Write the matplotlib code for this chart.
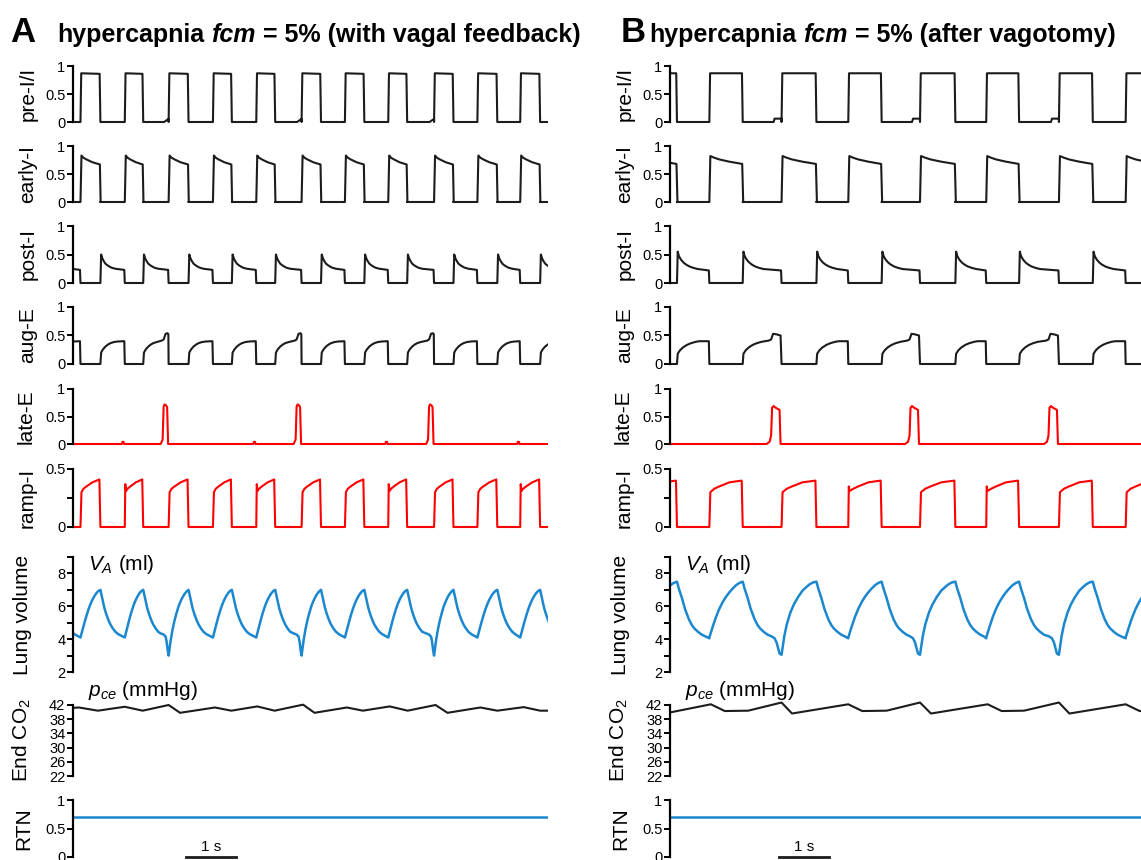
import matplotlib
matplotlib.use('Agg')
import matplotlib.pyplot as plt

plt.rcParams['font.family'] = ['Liberation Sans', 'DejaVu Sans']
plt.rcParams['mathtext.fontset'] = 'custom'
plt.rcParams['mathtext.rm'] = 'Liberation Sans'
plt.rcParams['mathtext.it'] = 'Liberation Sans:italic'

# ---- phase timing (s) ----
# inspiration onsets / offsets; kinds = what happens in the expiration before each onset
on_A = [-0.75, 0.15, 1.04, 1.92, 2.81, 3.68, 4.59, 5.46, 6.33, 7.25, 8.12, 8.98, 9.86]
off_A = [-0.33, 0.55, 1.41, 2.32, 3.19, 4.06, 4.98, 5.85, 6.71, 7.64, 8.52, 9.38, 10.25]
kinds_A = ['none', 'none', 'bump', 'spike', 'none', 'bump', 'spike', 'none', 'bump',
           'spike', 'none', 'bump', 'spike']

on_B = [-0.53, 0.79, 2.24, 3.58, 5.02, 6.35, 7.81, 9.15]
off_B = [0.14, 1.46, 2.94, 4.25, 5.73, 7.01, 8.49, 9.82]
kinds_B = ['none', 'none', 'spike', 'notch', 'spike', 'notch', 'spike', 'none']

# ---- trace shapes: (fraction of phase, seconds offset, value) ----
zero = [(0, 0, 0), (1, 0, 0)]

preI_A = {'insp': {'default': [(0, 0, 0), (0, 0.015, 0.87), (1, -0.015, 0.86), (1, 0, 0)]},
          'exp': {'default': zero,
                  'spike': [(0, 0, 0), (1, -0.09, 0), (1, -0.01, 0.05), (1, 0, 0.05)]}}
preI_B = {'insp': {'default': [(0, 0, 0), (0, 0.015, 0.87), (1, -0.015, 0.87), (1, 0, 0)]},
          'exp': {'default': zero,
                  'spike': [(0, 0, 0), (1, -0.16, 0), (1, -0.14, 0.06), (1, -0.01, 0.06), (1, 0, 0.06)]}}

earlyI_A = {'insp': {'default': [(0, 0, 0), (0, 0.02, 0.83), (0.15, 0, 0.79), (0.3, 0, 0.76),
                                 (0.6, 0, 0.71), (1, -0.01, 0.67), (1, 0.005, 0)]},
            'exp': {'default': zero}}
earlyI_B = {'insp': {'default': [(0, 0, 0), (0, 0.02, 0.82), (0.15, 0, 0.79), (0.3, 0, 0.76),
                                 (0.6, 0, 0.72), (1, -0.01, 0.68), (1, 0.01, 0)]},
            'exp': {'default': zero}}

postI_A = {'insp': {'default': zero},
           'exp': {'default': [(0, 0, 0), (0, 0.015, 0.5), (0, 0.04, 0.43), (0, 0.07, 0.38),
                               (0, 0.1, 0.34), (0, 0.15, 0.305), (0, 0.22, 0.27),
                               (0, 0.3, 0.25), (1, -0.01, 0.23), (1, 0, 0)]}}
postI_B = {'insp': {'default': zero},
           'exp': {'default': [(0, 0, 0), (0, 0.015, 0.55), (0, 0.04, 0.47), (0, 0.08, 0.41),
                               (0, 0.13, 0.36), (0, 0.18, 0.325), (0, 0.25, 0.29),
                               (0, 0.33, 0.265), (0, 0.42, 0.245), (1, -0.01, 0.22), (1, 0, 0)]}}

augE_A_rise = [(0, 0, 0), (0, 0.015, 0.2), (0, 0.05, 0.255), (0, 0.1, 0.305), (0, 0.15, 0.34),
               (0, 0.2, 0.365), (0, 0.27, 0.385), (0, 0.35, 0.395)]
augE_A = {'insp': {'default': zero},
          'exp': {'default': augE_A_rise + [(1, -0.01, 0.4), (1, 0, 0)],
                  'spike': augE_A_rise[:-1] + [(1, -0.14, 0.41), (1, -0.1, 0.43), (1, -0.06, 0.53),
                                               (1, -0.02, 0.54), (1, -0.005, 0.52), (1, 0, 0)]}}
augE_B_rise = [(0, 0, 0), (0, 0.015, 0.18), (0, 0.06, 0.24), (0, 0.12, 0.29), (0, 0.2, 0.335),
               (0, 0.28, 0.365), (0, 0.38, 0.39), (0, 0.45, 0.4)]
augE_B = {'insp': {'default': zero},
          'exp': {'default': augE_B_rise + [(1, -0.01, 0.4), (1, 0, 0)],
                  'spike': augE_B_rise[:-1] + [(1, -0.26, 0.41), (1, -0.21, 0.43), (1, -0.17, 0.53),
                                               (1, -0.1, 0.52), (1, -0.02, 0.5), (1, 0, 0)]}}

lateE_A = {'insp': {'default': zero},
           'exp': {'default': zero,
                   'bump': [(0, 0, 0), (1, -0.06, 0), (1, -0.045, 0.04), (1, -0.025, 0.04),
                            (1, -0.015, 0), (1, 0, 0)],
                   'spike': [(0, 0, 0), (1, -0.16, 0), (1, -0.12, 0.08), (1, -0.1, 0.68),
                             (1, -0.08, 0.72), (1, -0.05, 0.7), (1, -0.03, 0.67),
                             (1, -0.01, 0), (1, 0, 0)]}}
lateE_B = {'insp': {'default': zero},
           'exp': {'default': zero,
                   'spike': [(0, 0, 0), (1, -0.3, 0), (1, -0.24, 0.04), (1, -0.21, 0.15),
                             (1, -0.19, 0.66), (1, -0.16, 0.69), (1, -0.12, 0.66),
                             (1, -0.04, 0.62), (1, -0.02, 0), (1, 0, 0)]}}

rampI_A = {'insp': {'default': [(0, 0, 0), (0, 0.02, 0.3), (0.15, 0, 0.33), (0.3, 0, 0.35),
                                (0.6, 0, 0.385), (1, -0.02, 0.41), (1, 0, 0)],
                    'bump': [(0, 0, 0), (0, 0.01, 0.37), (0, 0.025, 0.31), (0.15, 0, 0.33),
                             (0.3, 0, 0.35), (0.6, 0, 0.385), (1, -0.02, 0.41), (1, 0, 0)]},
           'exp': {'default': zero}}
rampI_B = {'insp': {'default': [(0, 0, 0), (0, 0.02, 0.3), (0.15, 0, 0.33), (0.3, 0, 0.35),
                                (0.6, 0, 0.385), (1, -0.02, 0.4), (1, 0, 0)],
                    'notch': [(0, 0, 0), (0, 0.01, 0.35), (0, 0.025, 0.31), (0.15, 0, 0.33),
                              (0.3, 0, 0.35), (0.6, 0, 0.385), (1, -0.02, 0.4), (1, 0, 0)]},
           'exp': {'default': zero}}

lung_A_fall = [(0, 0, 7.0), (0, 0.025, 6.65), (0, 0.05, 6.3), (0, 0.08, 5.9), (0, 0.12, 5.5),
               (0, 0.16, 5.17), (0, 0.2, 4.9), (0, 0.25, 4.65), (0, 0.3, 4.45)]
lung_A = {'insp': {'default': [(0, 0, 4.1), (0.1, 0, 4.55), (0.2, 0, 5.0), (0.3, 0, 5.42),
                               (0.4, 0, 5.8), (0.5, 0, 6.13), (0.6, 0, 6.4), (0.7, 0, 6.62),
                               (0.8, 0, 6.8), (0.9, 0, 6.93), (1, 0, 7.0)],
                   'spike': [(0, 0, 3.0), (0.1, 0, 3.9), (0.2, 0, 4.6), (0.3, 0, 5.15),
                             (0.4, 0, 5.6), (0.5, 0, 6.0), (0.6, 0, 6.3), (0.7, 0, 6.55),
                             (0.8, 0, 6.75), (0.9, 0, 6.9), (1, 0, 7.0)]},
          'exp': {'default': lung_A_fall + [(0, 0.36, 4.3), (1, 0, 4.1)],
                  'spike': lung_A_fall + [(1, -0.16, 4.35), (1, -0.1, 4.28), (1, -0.06, 4.15),
                                          (1, -0.04, 3.85), (1, -0.02, 3.35), (1, 0, 3.0)]}}
lung_B_fall = [(0, 0, 7.5), (0, 0.04, 7.05), (0, 0.1, 6.5), (0, 0.16, 5.85), (0, 0.24, 5.2),
               (0, 0.3, 4.85), (0, 0.35, 4.65), (0, 0.42, 4.45), (0, 0.5, 4.27)]
lung_B = {'insp': {'default': [(0, 0, 4.1), (0.1, 0, 4.75), (0.2, 0, 5.35), (0.3, 0, 5.85),
                               (0.4, 0, 6.25), (0.5, 0, 6.58), (0.6, 0, 6.85), (0.7, 0, 7.08),
                               (0.8, 0, 7.28), (0.9, 0, 7.42), (1, 0, 7.5)],
                   'spike': [(0, 0, 3.05), (0.08, 0, 4.2), (0.15, 0, 4.9), (0.25, 0, 5.6),
                             (0.35, 0, 6.1), (0.47, 0, 6.55), (0.6, 0, 6.95), (0.7, 0, 7.15),
                             (0.8, 0, 7.33), (0.9, 0, 7.45), (1, 0, 7.5)]},
          'exp': {'default': lung_B_fall + [(0, 0.58, 4.15), (1, 0, 4.05)],
                  'spike': lung_B_fall + [(1, -0.2, 4.17), (1, -0.14, 4.05), (1, -0.1, 3.8),
                                          (1, -0.07, 3.45), (1, -0.04, 3.12), (1, 0, 3.05)]}}

# end-tidal CO2 (mmHg), keypoints
pce_t_A = [0, 0.12, 0.5, 1.04, 1.40, 1.92, 2.15, 2.85, 3.18, 3.70, 4.05, 4.62, 4.85, 5.50,
           5.82, 6.36, 6.72, 7.28, 7.52, 8.18, 8.52, 9.05, 9.38, 9.54]
pce_v_A = [41.2, 41.3, 40.4, 41.5, 40.4, 42.0, 39.8, 41.3, 40.4, 41.6, 40.4, 42.1, 39.8, 41.3,
           40.4, 41.6, 40.4, 42.0, 39.8, 41.3, 40.4, 41.4, 40.4, 40.4]
pce_t_B = [0, 0.82, 1.1, 1.57, 2.24, 2.45, 3.58, 3.86, 4.35, 5.02, 5.24, 6.38, 6.66, 7.11,
           7.81, 8.02, 9.15, 9.43, 9.6]
pce_v_B = [39.9, 42.2, 40.3, 40.4, 42.7, 39.6, 42.2, 40.3, 40.4, 42.7, 39.6, 42.2, 40.3, 40.4,
           42.7, 39.6, 42.2, 40.3, 40.3]

rtn_level = 0.71

# ---- layout (pixels) ----
W, H = 1141, 860
PX_PER_S = 49.8
T_END = 9.54
BLACK, RED, BLUE = '#1c1c1c', '#ff0000', '#1a87cf'

# label, lo, hi, px of hi, px of lo, major ticks, minor ticks, label offset
rows = [
    ('pre-I/I', 0, 1, 66, 122, [0, 0.5, 1], [], 45),
    ('early-I', 0, 1, 146, 202, [0, 0.5, 1], [], 45),
    ('post-I', 0, 1, 226, 283, [0, 0.5, 1], [], 45),
    ('aug-E', 0, 1, 307, 364, [0, 0.5, 1], [], 45),
    ('late-E', 0, 1, 389, 444, [0, 0.5, 1], [], 47),
    ('ramp-I', 0, 0.5, 469, 527, [0, 0.5], [0.25], 46),
    ('Lung volume', 2, 9, 557, 672, [2, 4, 6, 8], [3, 5, 7, 9], 50),
    ('End CO$_2$', 22, 42, 705, 776, [22, 26, 30, 34, 38, 42], [], 51),
    ('RTN', 0, 1, 800, 857, [0, 0.5, 1], [], 49),
]

fig = plt.figure(figsize=(W / 100, H / 100), dpi=100)


def build(on, off, kinds, tpl):
    ts, ys = [], []
    for k in range(len(on)):
        segs = [(on[k], off[k], tpl['insp'].get(kinds[k], tpl['insp']['default']))]
        if k + 1 < len(on):
            segs.append((off[k], on[k + 1], tpl['exp'].get(kinds[k + 1], tpl['exp']['default'])))
        for t0, t1, pts in segs:
            for f, dt, v in pts:
                ts.append(t0 + f * (t1 - t0) + dt)
                ys.append(v)
    return ts, ys


def make_axes(left_px, row):
    name, lo, hi, ptop, pbot, major, minor, loff = row
    ppu = (pbot - ptop) / (hi - lo)
    pad = 8
    ax = fig.add_axes([left_px / W, 1 - (pbot + pad) / H,
                       T_END * PX_PER_S / W, (pbot - ptop + 2 * pad) / H])
    ax.set_xlim(0, T_END)
    ax.set_ylim(lo - pad / ppu, hi + pad / ppu)
    for s in ['top', 'right', 'bottom']:
        ax.spines[s].set_visible(False)
    ax.spines['left'].set_bounds(lo, hi)
    ax.spines['left'].set_linewidth(1.6)
    ax.set_xticks([])
    ax.set_yticks(major)
    ax.set_yticklabels([('%g' % v) for v in major])
    ax.set_yticks(minor, minor=True)
    ax.tick_params(axis='y', which='both', direction='out', length=4, width=1.4,
                   labelsize=10.5, pad=1.5)
    ax.patch.set_visible(False)
    fig.text((left_px - loff) / W, 1 - (ptop + pbot) / 2 / H, name, rotation=90,
             ha='center', va='center', fontsize=15)
    return ax


def rich_title(x_px, letter_x, parts, letter):
    r = fig.canvas.get_renderer()
    y = 1 - 42 / H
    fig.text(letter_x / W, y, letter, fontsize=25, fontweight='bold', va='baseline')
    x = x_px
    space = 7.0
    for s, style in parts:
        t = fig.text(x / W, y, s, fontsize=18, fontweight='bold', fontstyle=style,
                     va='baseline', ha='left')
        x += t.get_window_extent(renderer=r).width + space


panels = [
    (73, on_A, off_A, kinds_A, [preI_A, earlyI_A, postI_A, augE_A, lateE_A, rampI_A, lung_A],
     pce_t_A, pce_v_A, 2.27, 10, 57, 'A', '(with vagal feedback)'),
    (670, on_B, off_B, kinds_B, [preI_B, earlyI_B, postI_B, augE_B, lateE_B, rampI_B, lung_B],
     pce_t_B, pce_v_B, 2.19, 621, 649, 'B', '(after vagotomy)'),
]

colors = [BLACK, BLACK, BLACK, BLACK, RED, RED, BLUE]
widths = [1.5, 1.5, 1.5, 1.5, 1.5, 1.5, 1.8]

for left, on, off, kinds, tpls, pt, pv, bar_t, lx, tx, letter, tail in panels:
    axes = [make_axes(left, row) for row in rows]
    for ax, tpl, c, lw in zip(axes[:7], tpls, colors, widths):
        t, y = build(on, off, kinds, tpl)
        ax.plot(t, y, color=c, lw=lw, solid_joinstyle='round')
    axes[7].plot(pt, pv, color=BLACK, lw=1.5)
    axes[8].plot([0, T_END], [rtn_level, rtn_level], color=BLUE, lw=1.8)

    # scale bar
    axes[8].plot([bar_t, bar_t + 1], [0, 0], color=BLACK, lw=2.0, clip_on=False)
    axes[8].text(bar_t + 0.5, 0.06, '1 s', ha='center', va='bottom', fontsize=11)

    fig.text((left + 15) / W, 1 - 564 / H, '$V_A$ (ml)', fontsize=15, va='center')
    fig.text((left + 15) / W, 1 - 690 / H, '$p_{ce}$ (mmHg)', fontsize=15, va='center')

    rich_title(tx, lx, [('hypercapnia', 'normal'), ('fcm', 'italic'), ('= 5% ' + tail, 'normal')],
               letter)

fig.savefig('out.png', dpi=100)
